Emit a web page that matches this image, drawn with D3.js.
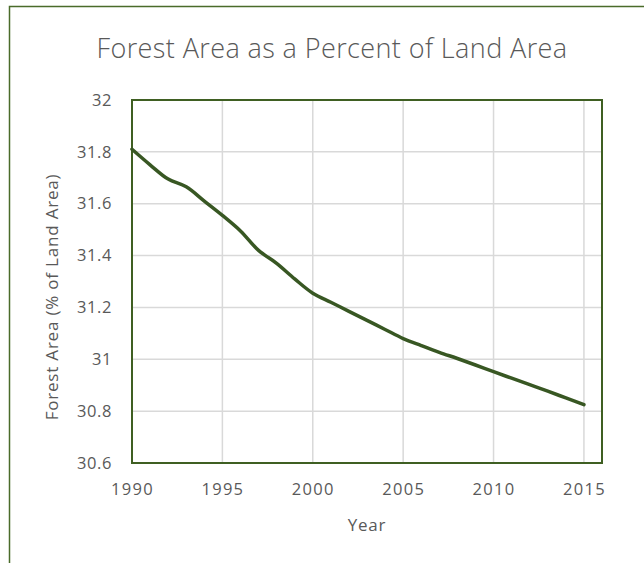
<!DOCTYPE html>
<html>
<head>
<meta charset="utf-8">
<script src="https://cdn.jsdelivr.net/npm/d3@7"></script>
<style>
  html, body { margin: 0; padding: 0; background: #fff; }
  svg { display: block; }
  text { font-family: "Open Sans", "Liberation Sans", sans-serif; fill: #595959; }
</style>
</head>
<body>
<svg id="chart" width="644" height="563"></svg>
<script>
// Forest area as a percent of world land area, 1990–2015
const years = [1990, 1991, 1992, 1993, 1994, 1995, 1996, 1997, 1998, 1999,
               2000, 2001, 2002, 2003, 2004, 2005, 2006, 2007, 2008, 2009,
               2010, 2011, 2012, 2013, 2014, 2015];
const forestPct = [31.81, 31.75, 31.695, 31.665, 31.61, 31.555, 31.495, 31.42, 31.37, 31.31,
                   31.255, 31.22, 31.185, 31.15, 31.115, 31.08, 31.053, 31.027, 31.003, 30.978,
                   30.952, 30.927, 30.902, 30.877, 30.851, 30.825];
const xTicks = [1990, 1995, 2000, 2005, 2010, 2015];
const yTicks = [30.6, 30.8, 31, 31.2, 31.4, 31.6, 31.8, 32];

const title = "Forest Area as a Percent of Land Area";
const xTitle = "Year";
const yTitle = "Forest Area (% of Land Area)";

const svg = d3.select("#chart");
const plot = { left: 132, right: 602, top: 100, bottom: 463 };

const x = d3.scaleLinear().domain([1990, 2016]).range([plot.left, plot.right]);
const y = d3.scaleLinear().domain([30.6, 32]).range([plot.bottom, plot.top]);

// outer chart frame
svg.append("rect")
  .attr("x", 9.5).attr("y", 6.5).attr("width", 660).attr("height", 600)
  .attr("fill", "#fff").attr("stroke", "#4a6b2a").attr("stroke-width", 1.5);

// gridlines
svg.append("g")
  .selectAll("line.v").data(xTicks).join("line")
  .attr("x1", d => x(d)).attr("x2", d => x(d))
  .attr("y1", plot.top).attr("y2", plot.bottom)
  .attr("stroke", "#d9d9d9").attr("stroke-width", 1.5);
svg.append("g")
  .selectAll("line.h").data(yTicks).join("line")
  .attr("x1", plot.left).attr("x2", plot.right)
  .attr("y1", d => y(d)).attr("y2", d => y(d))
  .attr("stroke", "#d9d9d9").attr("stroke-width", 1.5);

// plot area border
svg.append("rect")
  .attr("x", plot.left).attr("y", plot.top)
  .attr("width", plot.right - plot.left).attr("height", plot.bottom - plot.top)
  .attr("fill", "none").attr("stroke", "#3f5f22").attr("stroke-width", 2);

// axes (labels only; the frame acts as the axis line)
const xAxis = d3.axisBottom(x).tickValues(xTicks).tickFormat(d3.format("d")).tickSize(0).tickPadding(20);
const gx = svg.append("g").attr("transform", `translate(0,${plot.bottom})`).call(xAxis);
gx.select(".domain").remove();
gx.selectAll("text").attr("font-size", 16.5).attr("letter-spacing", 1.3)
  .style("font-family", '"Open Sans", sans-serif').attr("fill", "#595959");

const yAxis = d3.axisLeft(y).tickValues(yTicks).tickFormat(d => String(+d.toFixed(1))).tickSize(0).tickPadding(20);
const gy = svg.append("g").attr("transform", `translate(${plot.left},0)`).call(yAxis);
gy.select(".domain").remove();
gy.selectAll("text").attr("font-size", 16.5).attr("letter-spacing", 0.6)
  .style("font-family", '"Open Sans", sans-serif').attr("fill", "#595959");

// series line
const line = d3.line()
  .x((d, i) => x(years[i]))
  .y(d => y(d))
  .curve(d3.curveCatmullRom.alpha(0.5));
svg.append("path")
  .datum(forestPct)
  .attr("d", line)
  .attr("fill", "none")
  .attr("stroke", "#385723")
  .attr("stroke-width", 3.5)
  .attr("stroke-linecap", "round")
  .attr("stroke-linejoin", "round");

// titles
svg.append("text")
  .attr("x", 332).attr("y", 58)
  .attr("text-anchor", "middle")
  .attr("font-size", 27)
  .attr("font-weight", 300)
  .attr("letter-spacing", 0.4)
  .text(title);

svg.append("text")
  .attr("x", (plot.left + plot.right) / 2).attr("y", 531)
  .attr("text-anchor", "middle")
  .attr("font-size", 17)
  .attr("letter-spacing", 0.8)
  .text(xTitle);

svg.append("text")
  .attr("transform", "translate(58,297) rotate(-90)")
  .attr("text-anchor", "middle")
  .attr("font-size", 17)
  .attr("letter-spacing", 0.8)
  .text(yTitle);
</script>
</body>
</html>
